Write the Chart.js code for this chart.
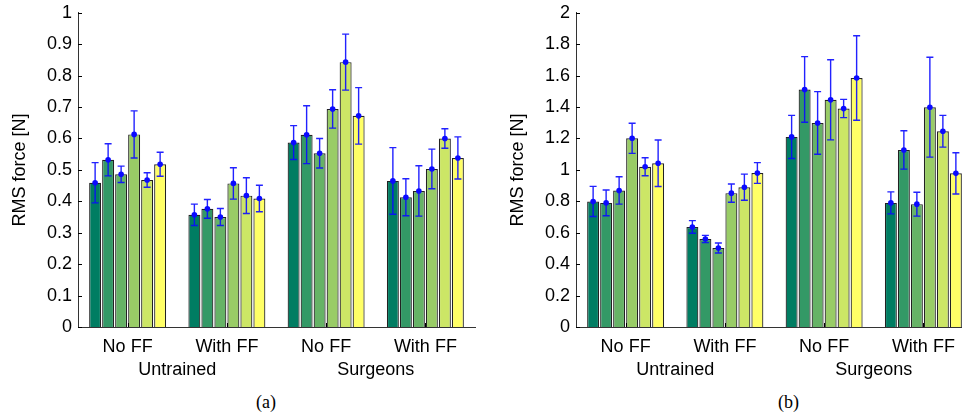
<!DOCTYPE html>
<html>
<head>
<meta charset="utf-8">
<script src="https://cdn.jsdelivr.net/npm/chart.js@4.4.0/dist/chart.umd.min.js"></script>
<style>
  html, body { margin: 0; padding: 0; background: #fff; }
  body { width: 962px; height: 415px; overflow: hidden; position: relative; }
  canvas { position: absolute; top: -4px; }
  #chartA { left: 0; }
  #chartB { left: 498px; }
  .caption { position: absolute; top: 392px; font: 18px "Liberation Serif", "Times New Roman", serif; color: #000; }
</style>
</head>
<body>
<canvas id="chartA" width="480" height="389"></canvas>
<canvas id="chartB" width="480" height="389"></canvas>
<div class="caption" style="left:256px">(a)</div>
<div class="caption" style="left:778px">(b)</div>

<script>
// ==========================
// Data
// ==========================
const conditions = ['No FF', 'With FF', 'No FF', 'With FF'];
const groups = ['Untrained', 'Surgeons'];
const colors = ['#007d62', '#339966', '#66b366', '#99cc66', '#cce666', '#ffff66'];

// (a) RMS force, one array per bar within a group
const meanA = [
  [0.459, 0.357, 0.587, 0.465],
  [0.532, 0.376, 0.612, 0.413],
  [0.486, 0.350, 0.553, 0.433],
  [0.613, 0.457, 0.694, 0.503],
  [0.468, 0.418, 0.843, 0.600],
  [0.518, 0.409, 0.672, 0.538]
];
const errA = [
  [0.064, 0.034, 0.054, 0.106],
  [0.051, 0.030, 0.092, 0.059],
  [0.026, 0.027, 0.047, 0.080],
  [0.075, 0.050, 0.061, 0.063],
  [0.023, 0.057, 0.089, 0.031],
  [0.038, 0.042, 0.090, 0.067]
];

// (b)
const meanB = [
  [0.799, 0.637, 1.210, 0.790],
  [0.790, 0.560, 1.512, 1.127],
  [0.869, 0.503, 1.299, 0.782],
  [1.201, 0.852, 1.446, 1.399],
  [1.020, 0.890, 1.391, 1.246],
  [1.042, 0.980, 1.585, 0.978]
];
const errB = [
  [0.096, 0.040, 0.137, 0.070],
  [0.082, 0.023, 0.209, 0.122],
  [0.087, 0.032, 0.199, 0.076],
  [0.096, 0.058, 0.255, 0.318],
  [0.057, 0.083, 0.058, 0.101],
  [0.148, 0.066, 0.269, 0.131]
];

const ticksA = ['0', '0.1', '0.2', '0.3', '0.4', '0.5', '0.6', '0.7', '0.8', '0.9', '1'];
const ticksB = ['0', '0.2', '0.4', '0.6', '0.8', '1', '1.2', '1.4', '1.6', '1.8', '2'];

// ==========================
// Error bars + inward ticks
// ==========================
const errorBars = {
  id: 'errorBars',
  afterDatasetsDraw(chart, args, opts) {
    const ctx = chart.ctx;
    const y = chart.scales.y;
    const x = chart.scales.x;
    ctx.save();
    // inward tick marks (MATLAB style)
    ctx.strokeStyle = '#000';
    ctx.lineWidth = 1;
    ctx.beginPath();
    y.ticks.forEach((t, i) => {
      const py = Math.round(y.getPixelForTick(i)) + 0.5;
      ctx.moveTo(x.left, py);
      ctx.lineTo(x.left + 4, py);
    });
    x.ticks.forEach((t, i) => {
      const px = Math.round(x.getPixelForTick(i)) + 0.5;
      ctx.moveTo(px, y.bottom);
      ctx.lineTo(px, y.bottom - 4);
    });
    ctx.stroke();

    ctx.strokeStyle = 'rgba(10,10,255,0.9)';
    ctx.fillStyle = '#0a0aff';
    ctx.lineWidth = 1.4;
    opts.err.forEach((serie, i) => {
      const meta = chart.getDatasetMeta(i);
      serie.forEach((e, j) => {
        const v = chart.data.datasets[i].data[j];
        const bar = meta.data[j];
        const top = y.getPixelForValue(v + e);
        const bot = y.getPixelForValue(v - e);
        ctx.beginPath();
        ctx.moveTo(bar.x, top);
        ctx.lineTo(bar.x, bot);
        ctx.moveTo(bar.x - 3.5, top);
        ctx.lineTo(bar.x + 3.5, top);
        ctx.moveTo(bar.x - 3.5, bot);
        ctx.lineTo(bar.x + 3.5, bot);
        ctx.stroke();
        ctx.beginPath();
        ctx.arc(bar.x, y.getPixelForValue(v), 2.8, 0, Math.PI * 2);
        ctx.fill();
      });
    });
    ctx.restore();
  }
};

// ==========================
// Chart builder
// ==========================
const font = { family: '"Liberation Sans", Arial, sans-serif', size: 18 };

function buildChart(id, means, errs, yMax, yStep, tickLabels) {
  return new Chart(document.getElementById(id), {
    type: 'bar',
    data: {
      labels: conditions,
      datasets: means.map((m, i) => ({
        data: m,
        backgroundColor: colors[i],
        borderColor: '#222',
        borderWidth: 1.2,
        borderSkipped: 'bottom',
        categoryPercentage: 0.786,
        barPercentage: 0.92
      }))
    },
    options: {
      responsive: false,
      animation: false,
      devicePixelRatio: 1,
      layout: { padding: { top: 6, right: 5, left: 0, bottom: 0 } },
      plugins: {
        legend: { display: false },
        tooltip: { enabled: false },
        errorBars: { err: errs }
      },
      scales: {
        x: {
          type: 'category',
          offset: true,
          grid: { display: false, drawTicks: false },
          border: { display: true, color: '#333', width: 1 },
          ticks: { font: font, color: '#000', padding: 9, maxRotation: 0 },
          afterFit: s => { s.height = 27; }
        },
        x2: {
          type: 'category',
          labels: groups,
          offset: true,
          position: 'bottom',
          grid: { display: false, drawTicks: false },
          border: { display: false },
          ticks: { font: font, color: '#000', padding: 5, maxRotation: 0 },
          afterFit: s => { s.height = 31; }
        },
        y: {
          min: 0,
          max: yMax,
          grid: { display: false, drawTicks: false },
          border: { display: true, color: '#333', width: 1 },
          ticks: {
            stepSize: yStep,
            font: font,
            color: '#000',
            padding: 6,
            callback: (v, i) => tickLabels[i]
          },
          title: { display: true, text: 'RMS force [N]', font: font, color: '#000', padding: { top: 9, bottom: 0 } },
          afterFit: s => { s.width = 78; }
        }
      }
    },
    plugins: [errorBars]
  });
}

buildChart('chartA', meanA, errA, 1, 0.1, ticksA);
buildChart('chartB', meanB, errB, 2, 0.2, ticksB);
</script>
</body>
</html>
